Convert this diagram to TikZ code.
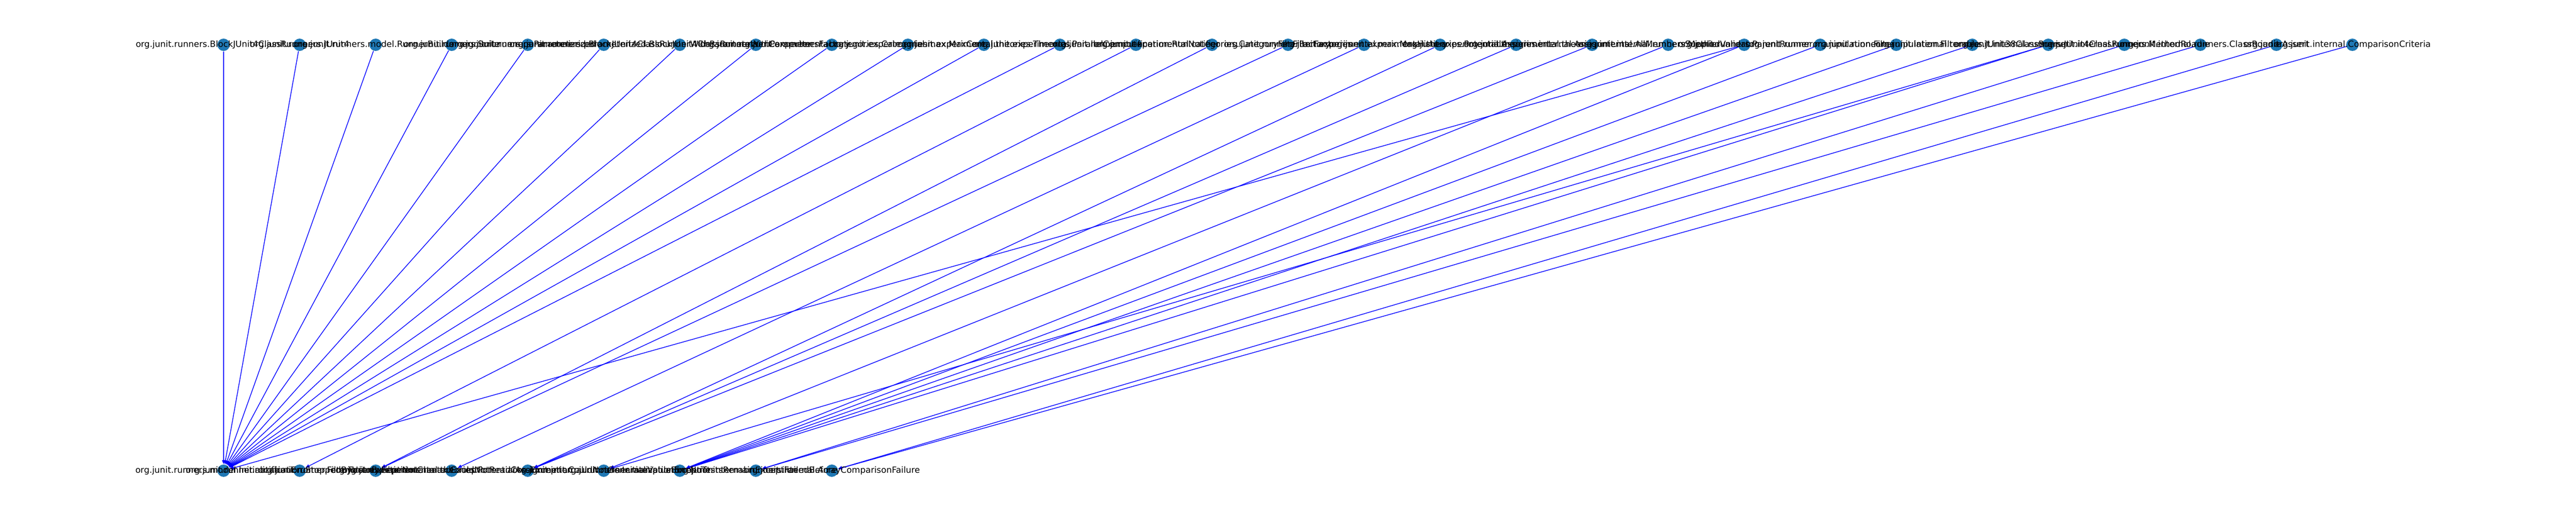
\documentclass[tikz,border=0pt]{standalone}
\usepackage{fontspec}
\setmainfont{DejaVu Sans}
\usetikzlibrary{arrows.meta}
\pgfdeclarelayer{bglayer}
\pgfdeclarelayer{edgelayer}
\pgfsetlayers{bglayer,edgelayer,main}
\definecolor{nodeblue}{HTML}{1F78B4}
\definecolor{edgeblue}{HTML}{0000FF}
\begin{document}
\begin{tikzpicture}[x=1cm,y=1cm,
  vertex/.style={circle,fill=nodeblue,draw=none,minimum size=0.24cm,inner sep=0pt},
  vlabel/.style={inner sep=0pt,anchor=center,font=\fontsize{4.72pt}{5pt}\selectfont,text=black},
  edge/.style={draw=edgeblue,line width=0.39pt,-{Triangle[length=2.2pt,width=1.8pt]}}]
\begin{pgfonlayer}{bglayer}
\fill[white] (0,0) rectangle (50,10);
\end{pgfonlayer}
\useasboundingbox (0,0) rectangle (50,10);
% top row
\foreach \i in {1,...,29} \node[vertex] (t\i) at ({4.34+1.4757*(\i-1)},9.13) {};
% bottom row
\foreach \i in {1,...,9} \node[vertex] (b\i) at ({4.34+1.4757*(\i-1)},0.86) {};
% top labels
\foreach \i/\lab in {
 1/org.junit.runners.BlockJUnit4ClassRunner,
 2/org.junit.runners.JUnit4,
 3/org.junit.runners.model.RunnerBuilder,
 4/org.junit.runners.Suite,
 5/org.junit.runners.Parameterized,
 6/org.junit.runners.parameterized.BlockJUnit4ClassRunnerWithParameters,
 7/org.junit.runners.parameterized.BlockJUnit4ClassRunnerWithParametersFactory,
 8/org.junit.runner.Computer,
 9/org.junit.experimental.categories.Categories,
 10/org.junit.experimental.max.MaxCore,
 11/org.junit.experimental.theories.Theories,
 12/org.junit.experimental.ParallelComputer,
 13/org.junit.runner.notification.RunNotifier,
 14/org.junit.experimental.categories.CategoryFilterFactory,
 15/org.junit.runner.FilterFactories,
 16/org.junit.experimental.max.MaxHistory,
 17/org.junit.experimental.theories.PotentialAssignment,
 18/org.junit.experimental.theories.internal.Assignments,
 19/org.junit.experimental.theories.internal.AllMembersSupplier,
 20/org.junit.internal.runners.MethodValidator,
 21/org.junit.runners.ParentRunner,
 22/org.junit.runner.manipulation.Filter,
 23/org.junit.runner.manipulation.Filterable,
 24/org.junit.internal.runners.JUnit38ClassRunner,
 25/org.junit.internal.runners.JUnit4ClassRunner,
 26/org.junit.internal.runners.MethodRoadie,
 27/org.junit.internal.runners.ClassRoadie,
 28/org.junit.Assert,
 29/org.junit.internal.ComparisonCriteria}
 \node[vlabel] (tl\i) at (t\i) {\lab};
% bottom labels
\foreach \i/\lab in {
 1/org.junit.runners.model.InitializationError,
 2/org.junit.runner.notification.StoppedByUserException,
 3/org.junit.runner.FilterFactory.FilterNotCreatedException,
 4/org.junit.experimental.max.CouldNotReadCoreException,
 5/org.junit.experimental.theories.PotentialAssignment.CouldNotGenerateValueException,
 6/org.junit.internal.runners.InitializationError,
 7/org.junit.runner.manipulation.NoTestsRemainException,
 8/org.junit.internal.runners.FailedBefore,
 9/org.junit.internal.ArrayComparisonFailure}
 \node[vlabel] (bl\i) at (b\i) {\lab};
% edges
\begin{pgfonlayer}{edgelayer}
\foreach \s/\d in {1/1,2/1,3/1,4/1,5/1,6/1,7/1,8/1,9/1,10/1,11/1,12/1,
 13/2,14/3,15/3,16/4,17/5,18/5,19/5,20/6,21/1,21/7,22/7,23/7,24/7,
 25/6,25/7,26/8,27/8,28/9,29/9}
 \draw[edge] (t\s) -- (b\d);
\end{pgfonlayer}
\end{tikzpicture}
\end{document}
